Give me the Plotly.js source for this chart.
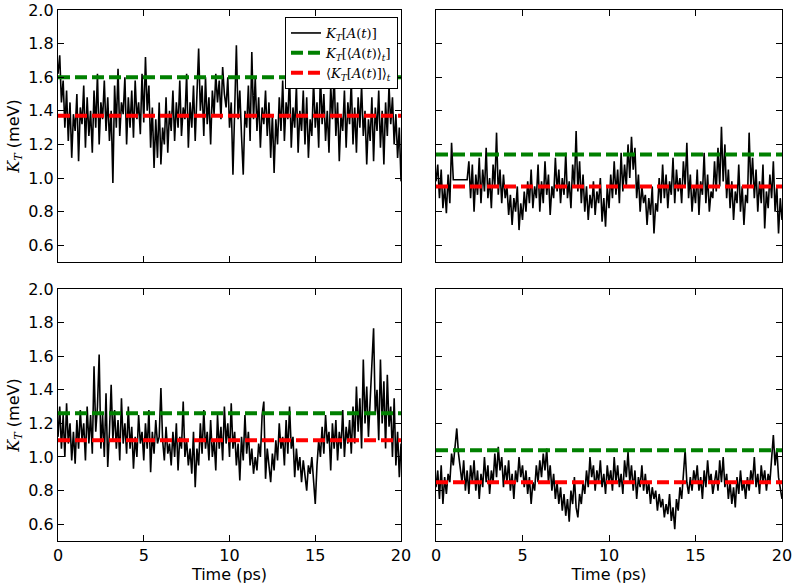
<!DOCTYPE html>
<html>
<head>
<meta charset="utf-8">
<script src="https://cdn.plot.ly/plotly-3.0.1.min.js"></script>
<style>
  html, body { margin: 0; padding: 0; background: white; }
  #chart { width: 793px; height: 588px; }
</style>
</head>
<body>
<div id="chart"></div>
<script>
const step = 0.1;

const kTopLeft = [
  1.62,1.73,1.45,1.58,1.30,1.52,1.22,1.45,1.12,1.38,1.28,
  1.50,1.10,1.42,1.32,1.55,1.18,1.48,1.25,1.40,1.15,
  1.52,1.30,1.62,1.20,1.45,1.35,1.58,1.28,1.48,1.22,
  1.40,0.97,1.55,1.30,1.65,1.25,1.45,1.38,1.60,1.20,
  1.48,1.30,1.52,1.24,1.58,1.35,1.45,1.26,1.62,1.33,
  1.72,1.40,1.55,1.18,1.42,1.06,1.35,1.12,1.45,1.08,
  1.30,1.20,1.48,1.15,1.40,1.28,1.52,1.22,1.45,1.30,
  1.58,1.25,1.42,1.35,1.62,1.18,1.45,1.30,1.55,1.22,
  1.48,1.77,1.40,1.55,1.25,1.60,1.32,1.48,1.20,1.52,
  1.38,1.62,1.45,1.58,1.35,1.66,1.50,1.42,1.60,1.30,
  1.45,1.02,1.40,1.79,1.35,1.52,1.25,1.02,1.40,1.30,
  1.55,1.22,1.75,1.35,1.60,1.28,1.48,1.18,1.42,1.32,
  1.52,1.25,1.45,1.12,1.38,1.03,1.35,1.20,1.48,1.28,
  1.58,1.22,1.45,1.35,1.62,1.18,1.42,1.30,1.55,1.15,
  1.40,1.28,1.52,1.20,1.48,1.12,1.35,1.25,1.58,1.30,
  1.45,1.18,1.62,1.32,1.50,1.22,1.40,1.15,1.55,1.35,
  1.62,1.25,1.45,1.10,1.38,1.28,1.52,1.18,1.45,1.32,
  1.58,1.20,1.42,1.15,1.48,1.30,1.55,1.25,1.40,1.08,
  1.35,1.22,1.48,1.10,1.42,1.28,1.52,1.18,1.40,1.08,
  1.45,1.25,1.55,1.32,1.48,1.20,1.38,1.12,1.30,0.98
];

const kTopRight = [
  0.98,1.08,0.88,1.05,0.82,0.95,0.79,1.02,0.85,1.21,0.99,
  null,null,null,null,null,null,null,0.99,1.10,0.88,
  1.08,0.80,1.02,0.90,1.12,0.85,1.05,0.92,1.18,0.88,
  1.00,0.82,1.08,0.95,1.27,0.90,1.05,0.85,1.02,0.88,
  0.95,0.78,0.90,0.72,0.88,0.80,0.95,0.69,0.85,0.75,
  0.92,0.80,0.98,0.85,1.05,0.82,0.95,0.88,1.08,0.80,
  0.98,0.85,1.10,0.90,1.02,0.78,0.95,0.88,1.12,0.92,
  1.05,0.85,1.00,0.90,1.15,0.88,0.98,0.82,1.08,0.95,
  1.28,0.92,1.10,0.85,1.02,0.80,0.95,0.75,0.90,0.82,
  0.98,0.78,0.92,0.85,1.00,0.74,0.88,0.71,0.95,0.82,
  1.02,0.88,1.10,0.90,1.05,0.85,1.15,0.92,1.08,0.95,
  1.20,1.00,1.245,1.05,1.18,0.88,1.02,0.80,0.95,0.85,
  0.90,0.72,0.88,0.78,0.95,0.67,0.85,0.80,1.00,0.85,
  1.08,0.88,1.02,0.82,0.98,0.90,1.12,0.85,1.05,0.92,
  1.00,0.85,1.10,0.95,1.21,0.88,1.02,0.80,0.95,0.85,
  1.05,0.78,0.98,0.90,1.15,0.85,1.02,0.80,0.92,0.88,
  1.10,0.92,1.18,0.95,1.305,0.98,1.20,0.88,1.05,0.82,
  0.98,0.75,0.92,0.85,1.08,0.80,0.95,0.72,0.90,0.85,
  1.27,0.95,1.12,0.88,1.05,0.80,0.98,0.85,1.08,0.70,
  0.92,0.82,1.02,0.88,1.10,0.80,0.95,0.67,0.88,0.75
];

const kBottomLeft = [
  1.12,1.30,1.05,1.25,1.00,1.32,1.08,1.20,0.98,1.15,0.96,
  1.22,1.05,1.28,1.10,1.20,0.98,1.30,1.08,1.25,1.02,
  1.54,1.15,1.30,1.61,1.05,1.25,1.00,1.38,0.94,1.15,
  1.43,1.10,1.28,1.05,1.22,0.98,1.35,1.08,1.20,1.02,
  1.30,1.05,1.18,0.93,1.12,1.00,1.25,1.08,1.15,0.98,
  1.20,1.05,1.28,0.91,1.15,1.02,1.22,1.08,1.12,1.41,
  1.10,0.98,1.18,1.02,1.08,0.95,1.15,1.00,1.20,0.92,
  1.12,1.05,1.33,1.00,1.10,0.95,1.05,0.90,1.15,0.82,
  1.05,0.95,1.20,1.02,1.28,1.05,1.15,0.98,1.22,1.00,
  1.10,0.92,1.25,1.05,1.18,0.98,1.30,1.08,1.20,1.00,
  1.32,1.05,1.15,0.95,1.08,0.86,1.12,0.98,1.25,1.02,
  1.15,0.95,1.05,0.90,1.00,0.92,1.08,1.00,1.25,1.33,
  0.87,1.05,0.95,0.85,1.02,0.92,1.10,0.98,1.20,1.05,
  1.12,0.95,1.22,1.02,1.30,1.05,1.12,0.88,1.05,0.92,
  1.00,0.85,0.98,0.88,0.80,0.95,0.90,1.00,0.85,0.72,
  0.95,1.10,1.00,1.18,1.02,1.25,1.08,1.15,0.92,1.20,
  1.05,1.22,0.98,1.15,1.05,1.28,1.00,1.18,1.08,1.22,
  1.02,1.30,1.08,1.42,1.15,1.35,1.05,1.58,1.20,1.42,
  1.12,1.35,1.50,1.766,1.25,1.40,1.10,1.58,1.20,1.45,
  1.05,1.49,1.18,1.30,1.00,1.35,0.95,1.15,0.88,1.08
];

const kBottomRight = [
  0.82,0.92,0.75,0.95,0.72,0.88,0.78,0.90,0.85,1.02,0.95,
  1.08,1.17,1.02,0.95,0.85,0.98,0.80,0.92,0.78,0.95,
  0.85,0.98,0.80,0.92,0.75,0.90,0.82,1.00,0.85,0.95,
  0.78,0.92,0.85,1.02,0.88,1.06,0.92,1.00,0.82,0.95,
  0.85,0.98,0.80,0.90,0.75,0.92,0.85,1.00,0.88,0.95,
  0.82,0.92,0.78,0.88,0.72,0.85,0.80,0.95,0.85,0.98,
  0.88,1.02,0.92,1.05,0.85,0.95,0.80,0.90,0.75,0.85,
  0.72,0.82,0.68,0.78,0.65,0.75,0.615,0.80,0.72,0.88,
  0.70,0.64,0.78,0.72,0.85,0.78,0.92,0.82,1.00,0.88,
  0.95,0.80,0.92,0.85,0.98,0.82,0.90,0.78,0.95,0.85,
  0.92,0.80,1.00,0.85,0.95,0.82,0.90,0.78,0.98,0.88,
  1.03,0.85,0.95,0.80,0.92,0.75,0.88,0.82,0.95,0.80,
  0.90,0.78,0.85,0.72,0.82,0.75,0.80,0.68,0.78,0.70,
  0.75,0.64,0.72,0.66,0.78,0.62,0.70,0.57,0.75,0.68,
  0.82,0.75,0.92,1.04,0.85,0.78,0.88,0.80,0.92,0.85,
  0.95,0.80,0.88,0.75,0.92,0.82,0.98,0.85,0.90,0.78,
  0.85,0.92,0.80,0.98,0.85,1.00,0.82,0.90,0.75,0.85,
  0.72,0.82,0.70,0.88,0.78,0.92,0.80,0.85,0.75,0.88,
  0.80,0.92,0.85,1.00,0.82,0.90,0.78,0.95,0.85,0.92,
  0.80,0.90,0.85,0.98,1.13,0.95,1.05,0.88,0.80,0.75
];

// K_T[<A(t)>_t] (green) and <K_T[A(t)]>_t (red) per panel: TL, TR, BL, BR
const kOfMeanA = [1.60, 1.14, 1.26, 1.04];
const meanOfK  = [1.37, 0.95, 1.10, 0.85];

const timeRange = [0, 20];
const xTicks = [0, 5, 10, 15, 20];
const yTicks = [0.6, 0.8, 1.0, 1.2, 1.4, 1.6, 1.8, 2.0];

const legendNames = [
    '<i>K</i><sub><i>T</i></sub>[<i>A</i>(<i>t</i>)]',
    '<i>K</i><sub><i>T</i></sub>[⟨<i>A</i>(<i>t</i>)⟩<sub><i>t</i></sub>]',
    '⟨<i>K</i><sub><i>T</i></sub>[<i>A</i>(<i>t</i>)]⟩<sub><i>t</i></sub>'
];

const series = [kTopLeft, kTopRight, kBottomLeft, kBottomRight];
const axisIds = [['x', 'y'], ['x2', 'y2'], ['x3', 'y3'], ['x4', 'y4']];

const traces = [];
series.forEach((vals, i) => {
    const [xa, ya] = axisIds[i];
    const first = i === 0;
    traces.push({
        x: vals.map((_, j) => +(j * step).toFixed(2)),
        y: vals,
        type: 'scatter',
        mode: 'lines',
        connectgaps: true,
        xaxis: xa, yaxis: ya,
        name: legendNames[0],
        showlegend: first,
        line: { color: 'black', width: 1.6 },
        hoverinfo: 'skip'
    });
    traces.push({
        x: timeRange,
        y: [kOfMeanA[i], kOfMeanA[i]],
        type: 'scatter',
        mode: 'lines',
        xaxis: xa, yaxis: ya,
        name: legendNames[1],
        showlegend: first,
        line: { color: '#008000', width: 4, dash: '12px,5px' }
    });
    traces.push({
        x: timeRange,
        y: [meanOfK[i], meanOfK[i]],
        type: 'scatter',
        mode: 'lines',
        xaxis: xa, yaxis: ya,
        name: legendNames[2],
        showlegend: first,
        line: { color: '#ff0000', width: 4, dash: '12px,5px' }
    });
});

const tickFont = { family: 'DejaVu Sans, sans-serif', size: 16, color: 'black' };

function xAxis(domain, anchor, labels) {
    return {
        domain: domain, anchor: anchor,
        range: timeRange,
        tickvals: xTicks,
        showticklabels: labels,
        ticks: 'inside', ticklen: 6, tickcolor: 'black', tickwidth: 1,
        showline: true, linecolor: 'black', linewidth: 1.2, mirror: 'ticks',
        showgrid: false, zeroline: false,
        tickfont: tickFont,
        title: labels ? { text: 'Time (ps)', font: tickFont, standoff: 2 } : { text: '' }
    };
}

function yAxis(domain, anchor, labels) {
    return {
        domain: domain, anchor: anchor,
        range: [0.5, 2.0],
        tickvals: yTicks,
        ticktext: yTicks.map(v => v.toFixed(1)),
        showticklabels: labels,
        ticks: 'inside', ticklen: 6, tickcolor: 'black', tickwidth: 1,
        showline: true, linecolor: 'black', linewidth: 1.2, mirror: 'ticks',
        showgrid: false, zeroline: false,
        tickfont: tickFont,
        title: labels ? {
            text: '<span style="font-family:DejaVu Serif"><i>K</i><sub><i>T</i></sub></span> (meV)',
            font: tickFont, standoff: 4
        } : { text: '' }
    };
}

const leftDom = [0, 0.4738];
const rightDom = [0.5221, 1];
const topDom = [0.5254, 1];
const botDom = [0, 0.4746];

const layout = {
    width: 793,
    height: 588,
    margin: { l: 58, r: 11, t: 10, b: 47 },
    paper_bgcolor: 'white',
    plot_bgcolor: 'white',
    font: { family: 'DejaVu Sans, sans-serif', color: 'black' },
    xaxis: xAxis(leftDom, 'y', false),
    yaxis: yAxis(topDom, 'x', true),
    xaxis2: xAxis(rightDom, 'y2', false),
    yaxis2: yAxis(topDom, 'x2', false),
    xaxis3: xAxis(leftDom, 'y3', true),
    yaxis3: yAxis(botDom, 'x3', true),
    xaxis4: xAxis(rightDom, 'y4', true),
    yaxis4: yAxis(botDom, 'x4', false),
    legend: {
        x: 0.4696, y: 0.9868,
        xanchor: 'right', yanchor: 'top',
        bgcolor: 'white',
        bordercolor: 'black',
        borderwidth: 1,
        font: { family: 'DejaVu Serif, serif', size: 13, color: 'black' },
        tracegroupgap: 0
    },
    showlegend: true
};

Plotly.newPlot('chart', traces, layout, { displayModeBar: false, staticPlot: true });
</script>
</body>
</html>
